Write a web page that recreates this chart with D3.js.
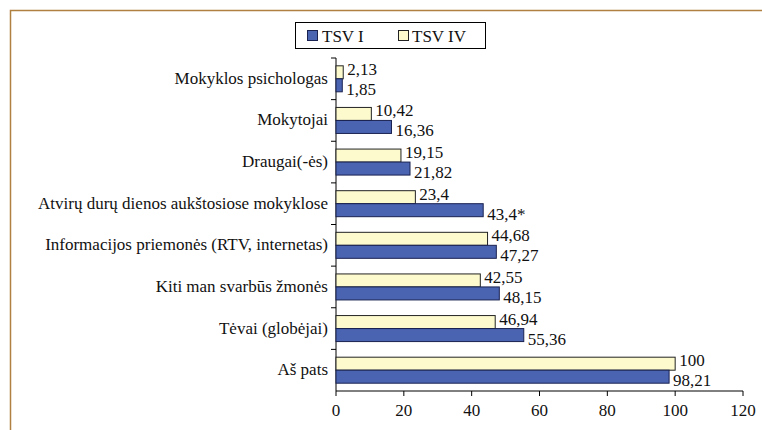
<!DOCTYPE html>
<html>
<head>
<meta charset="utf-8">
<script src="https://cdn.jsdelivr.net/npm/d3@7"></script>
<style>
  body { margin: 0; background: #fff; }
  svg text { font-family: "Times New Roman", "Liberation Serif", serif; fill: #111; }
</style>
</head>
<body>
<div id="chart"></div>
<script>
  // data, top to bottom
  const categories = ["Mokyklos psichologas", "Mokytojai", "Draugai(-ės)",
    "Atvirų durų dienos aukštosiose mokyklose", "Informacijos priemonės (RTV, internetas)",
    "Kiti man svarbūs žmonės", "Tėvai (globėjai)", "Aš pats"];
  const tsv1 = [1.85, 16.36, 21.82, 43.4, 47.27, 48.15, 55.36, 98.21];
  const tsv4 = [2.13, 10.42, 19.15, 23.4, 44.68, 42.55, 46.94, 100];
  const labels1 = ["1,85", "16,36", "21,82", "43,4*", "47,27", "48,15", "55,36", "98,21"];
  const labels4 = ["2,13", "10,42", "19,15", "23,4", "44,68", "42,55", "46,94", "100"];
  const xTicks = [0, 20, 40, 60, 80, 100, 120];

  const width = 762, height = 430;
  const fs = 17;
  const svg = d3.select("#chart").append("svg")
    .attr("width", width).attr("height", height);

  // frame (top and left edges only)
  svg.append("path")
    .attr("d", "M10.5,430 L10.5,10.5 L762,10.5")
    .attr("fill", "none").attr("stroke", "#b08040").attr("stroke-width", 1.5);

  let x = d3.scaleLinear().domain([0, 120]).range([336, 743]);
  let y = d3.scaleBand().domain(categories).range([58, 391]);

  const barH = 13;

  // x axis
  let xAxis = svg.append("g").attr("transform", "translate(0,391)");
  xAxis.append("line").attr("x1", x(0)).attr("x2", x(120)).attr("stroke", "#000");
  xAxis.selectAll("line.t").data(xTicks).join("line").attr("class", "t")
    .attr("x1", d => x(d)).attr("x2", d => x(d)).attr("y1", 0).attr("y2", 5).attr("stroke", "#000");
  xAxis.selectAll("text").data(xTicks).join("text")
    .attr("x", d => x(d)).attr("y", 25).attr("text-anchor", "middle")
    .attr("font-size", fs).text(d => d);

  // y axis
  let yAxis = svg.append("g");
  yAxis.append("line").attr("x1", x(0)).attr("x2", x(0)).attr("y1", 58).attr("y2", 391).attr("stroke", "#000");
  yAxis.selectAll("line.t").data(categories).join("line").attr("class", "t")
    .attr("x1", x(0) - 5).attr("x2", x(0)).attr("y1", d => y(d)).attr("y2", d => y(d)).attr("stroke", "#000");
  yAxis.selectAll("text").data(categories).join("text")
    .attr("x", 328).attr("y", d => y(d) + y.bandwidth() / 2 + 5)
    .attr("text-anchor", "end").attr("font-size", fs).text(d => d);

  // bars
  const mid = d => y(d) + y.bandwidth() / 2;
  svg.append("g").selectAll("rect").data(categories).join("rect")
    .attr("x", x(0)).attr("y", d => mid(d) - barH)
    .attr("width", (d, i) => x(tsv4[i]) - x(0)).attr("height", barH)
    .attr("fill", "#fdfbce").attr("stroke", "#222").attr("stroke-width", 1);
  svg.append("g").selectAll("rect").data(categories).join("rect")
    .attr("x", x(0)).attr("y", d => mid(d))
    .attr("width", (d, i) => x(tsv1[i]) - x(0)).attr("height", barH)
    .attr("fill", "#4a64b2").attr("stroke", "#1a2250").attr("stroke-width", 1);

  // value labels
  svg.append("g").selectAll("text").data(categories).join("text")
    .attr("x", (d, i) => x(tsv4[i]) + 4).attr("y", d => mid(d) - 4)
    .attr("font-size", fs).text((d, i) => labels4[i]);
  svg.append("g").selectAll("text").data(categories).join("text")
    .attr("x", (d, i) => x(tsv1[i]) + 4).attr("y", d => mid(d) + barH + 3)
    .attr("font-size", fs).text((d, i) => labels1[i]);

  // legend
  let lg = svg.append("g");
  lg.append("rect").attr("x", 295.5).attr("y", 22.5).attr("width", 190).attr("height", 26)
    .attr("fill", "#fff").attr("stroke", "#000");
  lg.append("rect").attr("x", 307.5).attr("y", 30.5).attr("width", 10).attr("height", 10)
    .attr("fill", "#4a64b2").attr("stroke", "#1a2250");
  lg.append("text").attr("x", 322).attr("y", 41.5).attr("font-size", fs).text("TSV I");
  lg.append("rect").attr("x", 398.5).attr("y", 30.5).attr("width", 10).attr("height", 10)
    .attr("fill", "#fdfbce").attr("stroke", "#222");
  lg.append("text").attr("x", 412).attr("y", 41.5).attr("font-size", fs).text("TSV IV");
</script>
</body>
</html>
